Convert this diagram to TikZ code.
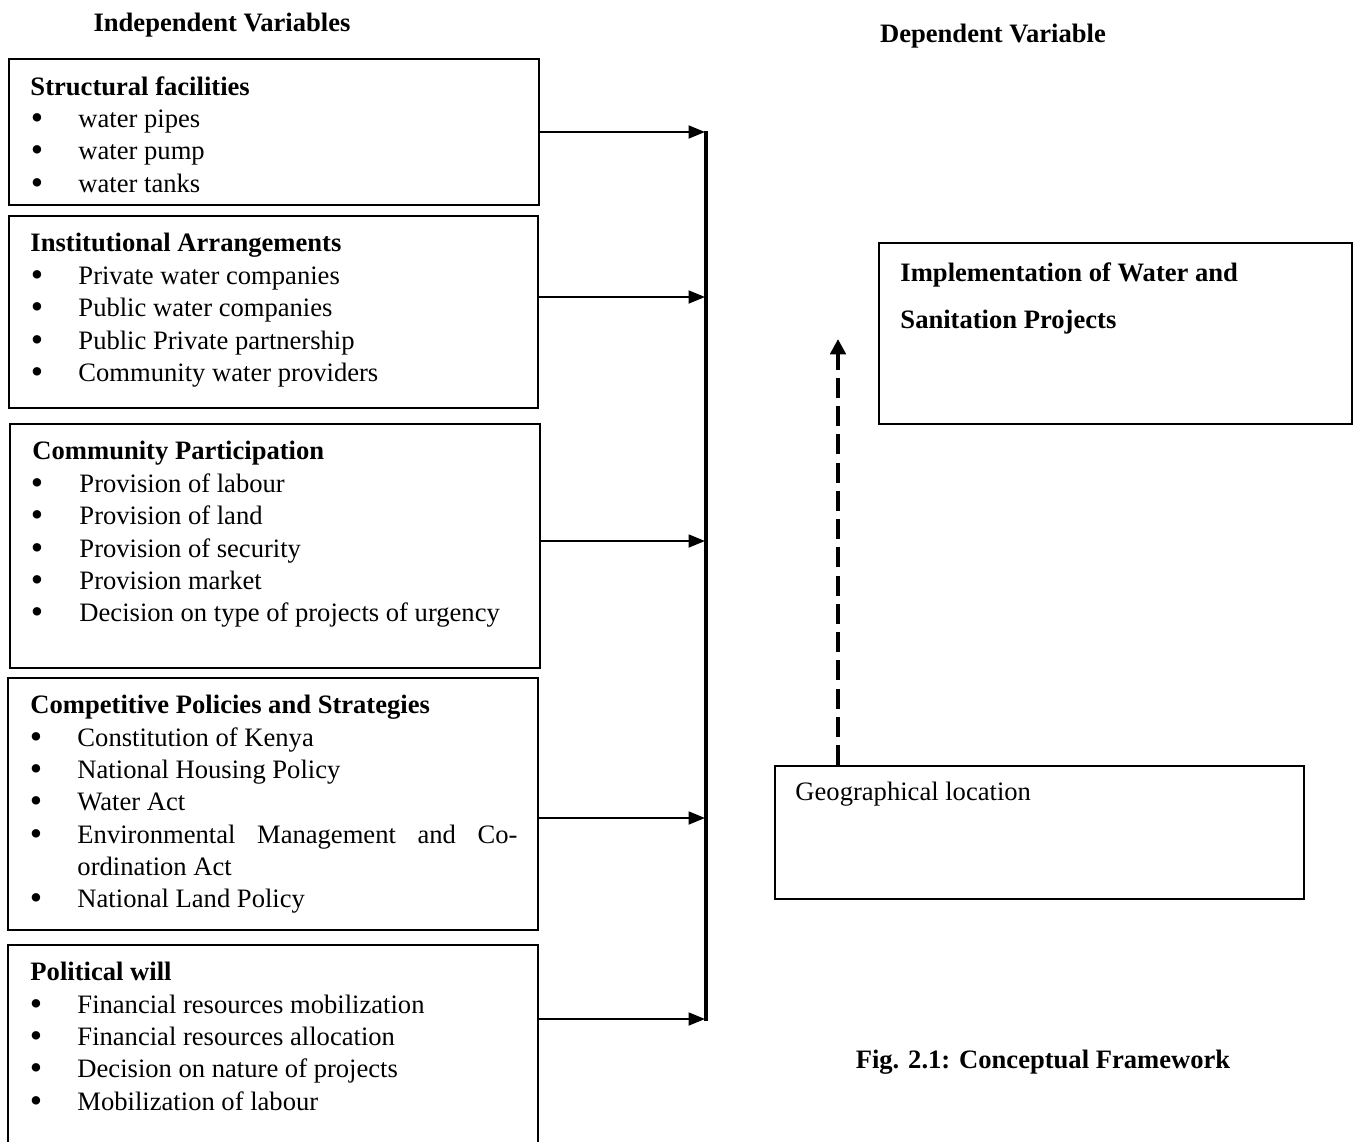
\documentclass[tikz,border=0pt]{standalone}
\usepackage{fontspec}
\setmainfont{Liberation Serif}
\usetikzlibrary{arrows.meta,fit}
\begin{document}
\begin{tikzpicture}[x=0.425pt,y=-0.425pt]
\tikzset{
 box/.style={draw, line width=0.85pt, inner sep=0pt},
 txt/.style={anchor=base west, inner sep=0pt, font=\fontsize{11.3}{13}\selectfont},
 bul/.style={anchor=base, inner sep=0pt, yshift=-1.2pt, font=\fontsize{15}{15}\selectfont},
 ttl/.style={anchor=base west, inner sep=0pt, font=\fontsize{11.3}{13}\selectfont\bfseries},
 hdr/.style={anchor=base, inner sep=0pt, font=\fontsize{11.3}{13}\selectfont\bfseries},
 conn/.style={line width=0.85pt, -{Triangle[length=7pt,width=5.5pt]}},
 bar/.style={line width=1.7pt},
 dashconn/.style={line width=1.7pt, dash pattern=on 8.5pt off 3.5pt, -{Triangle[length=6.5pt,width=6.5pt]}},
}
\useasboundingbox (0,0) rectangle (1358,1142);

% headings
\node[hdr] (hind) at (222,32) {Independent Variables};
\node[hdr] (hdep) at (993,42) {Dependent Variable};
\node[hdr] (fig) at (1043,1068) {Fig. 2.1: Conceptual Framework};

% boxes
\coordinate (c1a) at (9,59); \coordinate (c1b) at (539,205);
\node[box, fit=(c1a)(c1b)] (b1) {};
\coordinate (c2a) at (9,216); \coordinate (c2b) at (538,408);
\node[box, fit=(c2a)(c2b)] (b2) {};
\coordinate (c3a) at (10,424); \coordinate (c3b) at (540,668);
\node[box, fit=(c3a)(c3b)] (b3) {};
\coordinate (c4a) at (8,678); \coordinate (c4b) at (538,930);
\node[box, fit=(c4a)(c4b)] (b4) {};
\coordinate (c5a) at (8,945); \coordinate (c5b) at (538,1150);
\node[inner sep=0pt, fit=(c5a)(c5b)] (b5) {};
\draw[line width=0.85pt] (b5.south west) -- (b5.north west) -- (b5.north east) -- (b5.south east);
\coordinate (c6a) at (879,243); \coordinate (c6b) at (1352,424);
\node[box, fit=(c6a)(c6b)] (impl) {};
\coordinate (c7a) at (775,766); \coordinate (c7b) at (1304,899);
\node[box, fit=(c7a)(c7b)] (geo) {};

% box 1
\node[ttl] (t1) at (30,95) {Structural facilities};
\foreach \y/\t [count=\i] in {127/water pipes,159/water pump,192/water tanks}{
  \node[bul] (b1b\i) at (37,\y) {\textbullet};
  \node[txt] (b1t\i) at (78,\y) {\t};
}
% box 2
\node[ttl] (t2) at (30,251) {Institutional Arrangements};
\foreach \y/\t [count=\i] in {284/Private water companies,316/Public water companies,349/Public Private partnership,381/Community water providers}{
  \node[bul] (b2b\i) at (37,\y) {\textbullet};
  \node[txt] (b2t\i) at (78,\y) {\t};
}
% box 3
\node[ttl] (t3) at (32,459) {Community Participation};
\foreach \y/\t [count=\i] in {492/Provision of labour,524/Provision of land,557/Provision of security,589/Provision market,621/Decision on type of projects of urgency}{
  \node[bul] (b3b\i) at (37,\y) {\textbullet};
  \node[txt] (b3t\i) at (79,\y) {\t};
}
% box 4
\node[ttl] (t4) at (30,713) {Competitive Policies and Strategies};
\foreach \y/\t [count=\i] in {746/Constitution of Kenya,778/National Housing Policy,810/Water Act}{
  \node[bul] (b4b\i) at (36,\y) {\textbullet};
  \node[txt] (b4t\i) at (77,\y) {\t};
}
\node[bul] (b4b4) at (36,843) {\textbullet};
\node[txt] (b4t4) at (77,843) {\makebox[187pt][s]{Environmental Management and Co-}};
\node[txt] (b4t4b) at (77,875) {ordination Act};
\node[bul] (b4b5) at (36,907) {\textbullet};
\node[txt] (b4t5) at (77,907) {National Land Policy};
% box 5
\node[ttl] (t5) at (30,980) {Political will};
\foreach \y/\t [count=\i] in {1013/Financial resources mobilization,1045/Financial resources allocation,1077/Decision on nature of projects,1110/Mobilization of labour}{
  \node[bul] (b5b\i) at (36,\y) {\textbullet};
  \node[txt] (b5t\i) at (77,\y) {\t};
}
% right boxes text
\node[ttl] (i1) at (900,281) {Implementation of Water and};
\node[ttl] (i2) at (900,328) {Sanitation Projects};
\node[txt] (g1) at (795,800) {Geographical location};

% connectors
\coordinate (bartop) at (706,131);
\coordinate (barbot) at (706,1021);
\draw[bar] (bartop) -- (barbot);
\coordinate (a1) at (705,132);
\coordinate (a2) at (705,297);
\coordinate (a3) at (705,541);
\coordinate (a4) at (705,818);
\coordinate (a5) at (705,1019);
\draw[conn] (b1.east |- a1) -- (a1);
\draw[conn] (b2.east |- a2) -- (a2);
\draw[conn] (b3.east |- a3) -- (a3);
\draw[conn] (b4.east |- a4) -- (a4);
\draw[conn] (b5.east |- a5) -- (a5);

\coordinate (dtip) at (838,339);
\draw[dashconn] (geo.north -| dtip) -- (dtip);
\end{tikzpicture}
\end{document}
